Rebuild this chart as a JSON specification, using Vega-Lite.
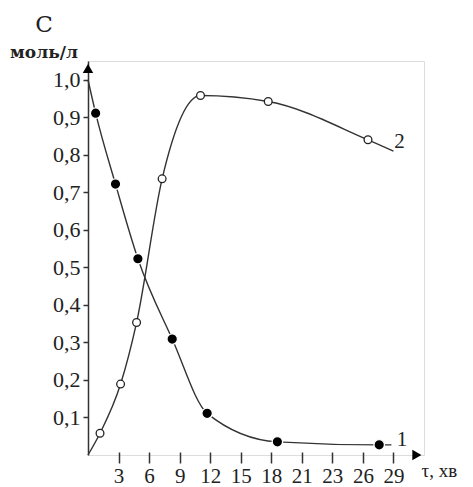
{
  "$schema": "https://vega.github.io/schema/vega-lite/v6.json",
  "width": 336,
  "height": 394,
  "autosize": {"type": "none"},
  "padding": {"left": 88, "top": 61, "right": 49, "bottom": 32},
  "background": "white",
  "config": {"font": "Times New Roman"},
  "title": {
    "text": "C",
    "subtitle": "моль/л",
    "anchor": "start",
    "frame": "group",
    "align": "center",
    "dx": -44,
    "offset": 0,
    "font": "DejaVu Serif",
    "fontSize": 23,
    "fontWeight": "normal",
    "color": "#222",
    "subtitleFont": "DejaVu Serif",
    "subtitleFontSize": 17,
    "subtitleFontWeight": "bold",
    "subtitleColor": "#222",
    "subtitlePadding": 8
  },
  "datasets": {
    "curves": [
      {"series": "1", "t": 0, "c": 1.0, "marker": false},
      {"series": "1", "t": 0.75, "c": 0.911, "marker": true},
      {"series": "1", "t": 2.7, "c": 0.722, "marker": true},
      {"series": "1", "t": 4.9, "c": 0.523, "marker": true},
      {"series": "1", "t": 8.27, "c": 0.309, "marker": true},
      {"series": "1", "t": 11.7, "c": 0.111, "marker": true},
      {"series": "1", "t": 18.6, "c": 0.035, "marker": true},
      {"series": "1", "t": 28.6, "c": 0.027, "marker": true},
      {"series": "1", "t": 29.8, "c": 0.027, "marker": false},
      {"series": "2", "t": 0, "c": 0.0, "marker": false},
      {"series": "2", "t": 1.18, "c": 0.058, "marker": true},
      {"series": "2", "t": 3.2, "c": 0.189, "marker": true},
      {"series": "2", "t": 4.77, "c": 0.353, "marker": true},
      {"series": "2", "t": 7.28, "c": 0.736, "marker": true},
      {"series": "2", "t": 11.05, "c": 0.958, "marker": true},
      {"series": "2", "t": 17.7, "c": 0.942, "marker": true},
      {"series": "2", "t": 27.5, "c": 0.84, "marker": true},
      {"series": "2", "t": 30.0, "c": 0.81, "marker": false}
    ],
    "labels": [
      {"label": "1", "t": 30.85, "c": 0.04},
      {"label": "2", "t": 30.6, "c": 0.835}
    ],
    "arrows": [
      {"dir": "up", "t": 0, "c": 1.03},
      {"dir": "right", "t": 32.3, "c": 0}
    ]
  },
  "encoding": {
    "x": {
      "field": "t",
      "type": "quantitative",
      "scale": {"domain": [0, 33], "nice": false, "zero": false},
      "axis": {
        "values": [3, 6, 9, 12, 15, 18, 21, 24, 27, 30],
        "labelExpr": "datum.value == 24 ? '23' : datum.value == 27 ? '26' : datum.value == 30 ? '29' : datum.label",
        "domain": false,
        "grid": false,
        "offset": -3,
        "tickSize": 11,
        "tickColor": "#333",
        "tickWidth": 1.5,
        "labelFont": "Times New Roman",
        "labelFontSize": 21,
        "labelColor": "#222",
        "labelPadding": 2,
        "labelFlush": false,
        "title": "τ, хв",
        "titleFont": "Times New Roman",
        "titleFontSize": 19,
        "titleFontWeight": "normal",
        "titleColor": "#222",
        "titleAlign": "left",
        "titleAnchor": "start",
        "titleBaseline": "alphabetic",
        "titleX": 333,
        "titleY": 24
      }
    },
    "y": {
      "field": "c",
      "type": "quantitative",
      "scale": {"domain": [0, 1.05], "nice": false, "zero": false},
      "axis": {
        "values": [0.1, 0.2, 0.3, 0.4, 0.5, 0.6, 0.7, 0.8, 0.9, 1.0],
        "labelExpr": "replace(format(datum.value, '.1f'), '.', ',')",
        "domain": true,
        "domainColor": "#333",
        "domainWidth": 1.5,
        "grid": false,
        "tickSize": 5,
        "tickColor": "#333",
        "tickWidth": 1.5,
        "labelFont": "Times New Roman",
        "labelFontSize": 22,
        "labelColor": "#222",
        "labelPadding": 3,
        "labelFlush": false,
        "title": null
      }
    }
  },
  "layer": [
    {
      "mark": {"type": "rule", "color": "#333", "strokeWidth": 1.5},
      "encoding": {"y": {"datum": 0}, "x": null}
    },
    {
      "data": {"name": "curves"},
      "mark": {"type": "line", "interpolate": "monotone", "color": "#333", "strokeWidth": 1.4},
      "encoding": {"detail": {"field": "series"}}
    },
    {
      "data": {"name": "curves"},
      "transform": [{"filter": "datum.marker"}],
      "mark": {"type": "point", "filled": true, "opacity": 1, "strokeWidth": 1.3},
      "encoding": {
        "fill": {"field": "series", "type": "nominal", "scale": {"domain": ["1", "2"], "range": ["#000000", "#ffffff"]}, "legend": null},
        "stroke": {"field": "series", "type": "nominal", "scale": {"domain": ["1", "2"], "range": ["#ffffff", "#222222"]}, "legend": null},
        "size": {"field": "series", "type": "nominal", "scale": {"domain": ["1", "2"], "range": [110, 60]}, "legend": null}
      }
    },
    {
      "data": {"name": "arrows"},
      "mark": {"type": "point", "filled": true, "color": "#000", "opacity": 1, "size": 110},
      "encoding": {
        "shape": {"field": "dir", "type": "nominal", "scale": {"domain": ["up", "right"], "range": ["triangle-up", "triangle-right"]}, "legend": null}
      }
    },
    {
      "data": {"name": "labels"},
      "mark": {"type": "text", "font": "Times New Roman", "fontSize": 21, "color": "#222", "align": "center", "baseline": "middle"},
      "encoding": {"text": {"field": "label"}}
    }
  ]
}
